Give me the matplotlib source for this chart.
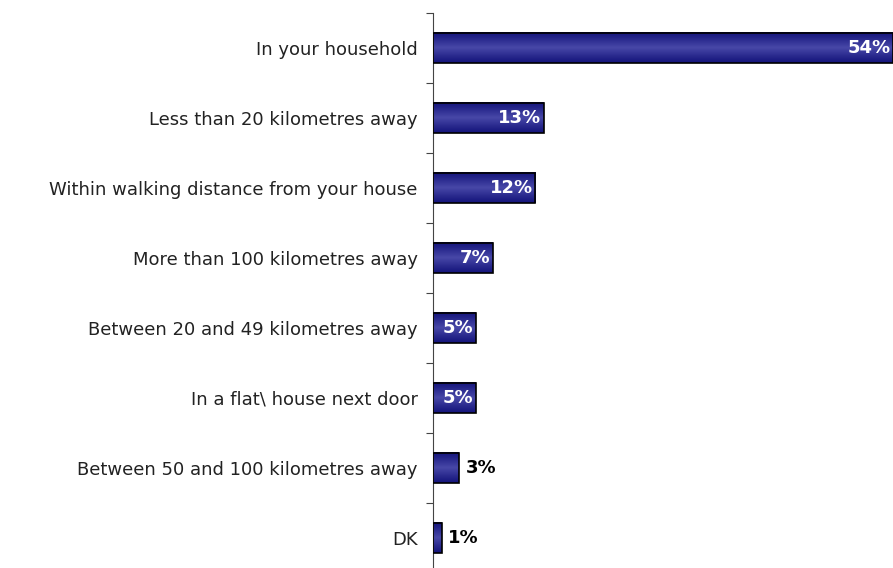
import numpy as np
import matplotlib.pyplot as plt
from matplotlib.colors import LinearSegmentedColormap

plt.rcParams["font.family"] = ["DejaVu Sans"]

categories = [
    "In your household",
    "Less than 20 kilometres away",
    "Within walking distance from your house",
    "More than 100 kilometres away",
    "Between 20 and 49 kilometres away",
    "In a flat\\ house next door",
    "Between 50 and 100 kilometres away",
    "DK",
]
values = [54, 13, 12, 7, 5, 5, 3, 1]

W, H = 893, 568
fig = plt.figure(figsize=(W / 100, H / 100), dpi=100)
ax = fig.add_axes([433 / W, -5 / H, 1 - 433 / W, (573 - 13) / H])

n = len(categories)
y = np.arange(n)
bar_h = 0.44

bars = ax.barh(y, values, height=bar_h, color="none", edgecolor="black",
               linewidth=1.2, zorder=3)

# vertical gradient: dark navy edges, lighter blue centre
cmap = LinearSegmentedColormap.from_list(
    "bar", ["#13137a", "#2c2c90", "#4848a8", "#2c2c90", "#13137a"])
grad = np.linspace(0, 1, 64).reshape(-1, 1)
for rect in bars:
    x0, y0 = rect.get_x(), rect.get_y()
    w, h = rect.get_width(), rect.get_height()
    ax.imshow(grad, cmap=cmap, aspect="auto", extent=(x0, x0 + w, y0, y0 + h),
              interpolation="bilinear", zorder=2)

for yi, v in zip(y, values):
    if v >= 5:
        ax.text(v - 0.3, yi, f"{v}%", ha="right", va="center", color="white",
                fontsize=13, fontweight="bold", zorder=4)
    else:
        ax.text(v + 0.8, yi, f"{v}%", ha="left", va="center", color="black",
                fontsize=13, fontweight="bold", zorder=4)

ax.set_xlim(0, 54)
ax.set_ylim(n - 0.5, -0.5)
ax.set_yticks(y)
ax.set_yticklabels(categories, fontsize=13, color="#222222")
ax.tick_params(axis="y", which="major", length=0, pad=11)
ax.set_yticks(np.arange(-0.5, n, 1), minor=True)
ax.tick_params(axis="y", which="minor", length=5, width=0.8, color="#444444")
ax.set_xticks([])
for s in ["top", "right", "bottom"]:
    ax.spines[s].set_visible(False)
ax.spines["left"].set_linewidth(0.8)
ax.spines["left"].set_color("#444444")

fig.savefig("out.png", dpi=100)
